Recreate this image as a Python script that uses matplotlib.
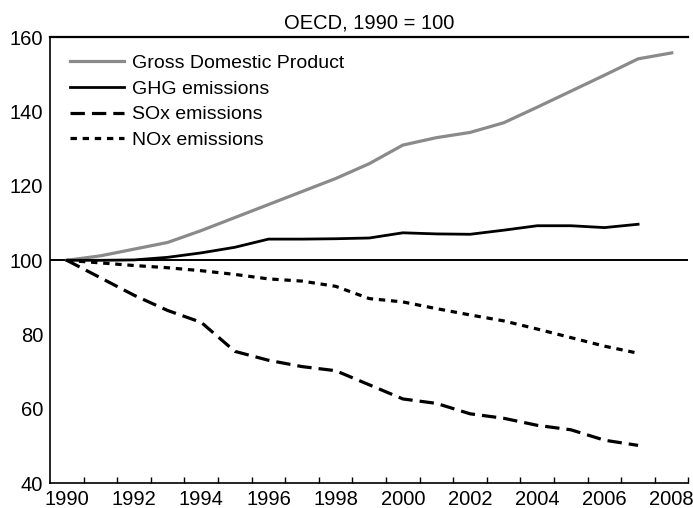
import numpy as np
import matplotlib
matplotlib.use("Agg")
import matplotlib.pyplot as plt

# Index values, OECD, 1990 = 100
years = list(range(1990, 2009))
gdp = [100, 101.2, 103.0, 104.8, 108.0, 111.5, 115.0, 118.5, 122.0, 126.0,
       131.0, 133.0, 134.4, 137.0, 141.2, 145.5, 149.8, 154.2, 155.8]
ghg = [100, 100, 100.1, 100.8, 102.0, 103.5, 105.7, 105.7, 105.8, 106.0,
       107.4, 107.1, 107.0, 108.1, 109.3, 109.3, 108.8, 109.7]
sox = [100, 95.3, 90.6, 86.5, 83.3, 75.5, 73.1, 71.4, 70.3, 66.5,
       62.7, 61.5, 58.7, 57.5, 55.6, 54.4, 51.6, 50.2]
nox = [100, 99.3, 98.6, 98.0, 97.2, 96.2, 95.0, 94.4, 93.0, 89.7,
       88.8, 87.0, 85.3, 83.7, 81.5, 79.2, 76.9, 75.0]
labels = ["Gross Domestic Product", "GHG emissions", "SOx emissions", "NOx emissions"]
year_labels = [str(y) for y in range(1990, 2009, 2)]
y_ticks = [40, 60, 80, 100, 120, 140, 160]

plt.rcParams.update({'font.family': ['Liberation Sans', 'DejaVu Sans'], 'font.size': 14.5})

fig = plt.figure(figsize=(6.93, 5.08), dpi=100)
ax = fig.add_axes([0.0722, 0.0486, 0.9213, 0.878])

ax.axhline(100, color='black', linewidth=1.4, zorder=1)
ax.plot(years, gdp, color='#8a8a8a', linewidth=2.3, label=labels[0], zorder=3)
ax.plot(years[:len(ghg)], ghg, color='black', linewidth=2.0, label=labels[1], zorder=3)
ax.plot(years[:len(sox)], sox, color='black', linewidth=2.3, dashes=(4.5, 2.2), label=labels[2], zorder=3)
ax.plot(years[:len(nox)], nox, color='black', linewidth=2.3, dashes=(2.0, 1.8), label=labels[3], zorder=3)

ax.set_xlim(1989.5, 2008.5)
ax.set_ylim(40, 160)
ax.set_xticks(range(1990, 2009, 2))
ax.set_xticklabels(year_labels)
ax.set_xticks(np.arange(1990.5, 2008.6, 1), minor=True)
ax.set_yticks(y_ticks)
ax.tick_params(axis='x', which='major', length=0, pad=5)
ax.tick_params(axis='x', which='minor', direction='in', length=4, width=1)
ax.tick_params(axis='y', length=0, pad=5)

ax.spines['right'].set_visible(False)
ax.spines['top'].set_linewidth(1.6)
ax.spines['left'].set_linewidth(1.2)
ax.spines['bottom'].set_linewidth(1.2)

ax.set_title("OECD, 1990 = 100", fontsize=14.5, pad=6)

ax.legend(loc='upper left', bbox_to_anchor=(0.031, 0.962), frameon=False,
          borderaxespad=0, borderpad=0, handlelength=2.8, handletextpad=0.4,
          labelspacing=0.42, fontsize=14)

fig.savefig("out.png", dpi=100)
